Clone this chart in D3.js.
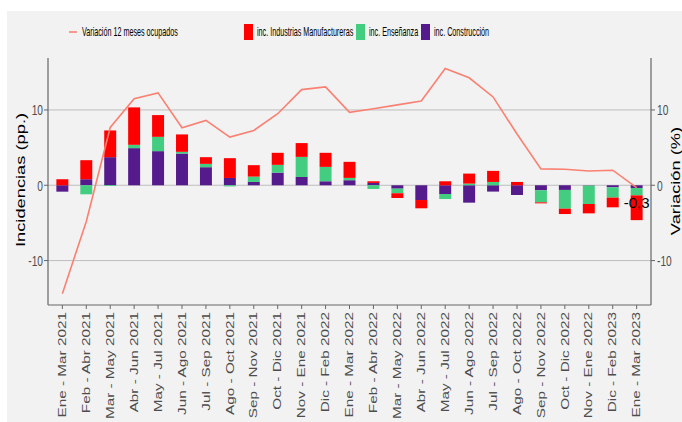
<!DOCTYPE html>
<html>
<head>
<meta charset="utf-8">
<script src="https://cdn.jsdelivr.net/npm/d3@7"></script>
<style>
  body { margin: 0; background: #fff; }
  text { font-family: "Liberation Sans", Arial, sans-serif; }
</style>
</head>
<body>
<script>
// datos
var periodos = ["Ene - Mar 2021", "Feb - Abr 2021", "Mar - May 2021", "Abr - Jun 2021", "May - Jul 2021",
  "Jun - Ago 2021", "Jul - Sep 2021", "Ago - Oct 2021", "Sep - Nov 2021", "Oct - Dic 2021",
  "Nov - Ene 2021", "Dic - Feb 2022", "Ene - Mar 2022", "Feb - Abr 2022", "Mar - May 2022",
  "Abr - Jun 2022", "May - Jul 2022", "Jun - Ago 2022", "Jul - Sep 2022", "Ago - Oct 2022",
  "Sep - Nov 2022", "Oct - Dic 2022", "Nov - Ene 2022", "Dic - Feb 2023", "Ene - Mar 2023"];

var construccion = [-0.85, 0.8, 3.73, 4.93, 4.53, 4.21, 2.4, 0.97, 0.44, 1.68, 1.1, 0.53, 0.67,
  0.31, -0.45, -1.96, -1.16, -2.31, -0.84, -1.29, -0.67, -0.62, -0.05, -0.27, -0.36];
var ensenanza = [0, -1.2, -0.1, 0.44, 1.9, 0.23, 0.44, -0.15, 0.71, 1.03, 2.67, 1.91, 0.31,
  -0.49, -0.61, 0, -0.67, 0.22, 0.44, 0, -1.6, -2.49, -2.44, -1.37, -0.98];
var industrias = [0.8, 2.53, 3.55, 4.97, 2.89, 2.31, 0.89, 2.63, 1.52, 1.6, 1.83, 1.87, 2.13,
  0.22, -0.63, -1.1, 0.53, 1.33, 1.47, 0.44, -0.13, -0.71, -1.24, -1.29, -3.29];
var variacion = [-14.4, -4.8, 7.68, 11.5, 12.27, 7.64, 8.61, 6.4, 7.28, 9.5, 12.7, 13.07, 9.68,
  10.17, 10.67, 11.2, 15.5, 14.27, 11.73, 6.8, 2.17, 2.13, 1.9, 2.0, -0.3];

var yTicks = [-10, 0, 10];
var ultimaEtiqueta = "-0,3";

var series = ["construccion", "ensenanza", "industrias"];
var colores = {construccion: "#551a8b", ensenanza: "#43cd80", industrias: "#ff0000"};
var colorLinea = "#fa8072";

var width = 682, height = 422;
var margin = {top: 58, right: 31, bottom: 117, left: 48};
var sx = 0.68; // el texto del original esta comprimido en horizontal

var svg = d3.select("body").append("svg")
  .attr("width", width)
  .attr("height", height);

// fondo gris
svg.append("rect")
  .attr("x", 7).attr("y", 11)
  .attr("width", width - 7).attr("height", height - 11)
  .attr("fill", "#f2f2f2");

var x = d3.scalePoint()
  .domain(periodos)
  .range([margin.left, width - margin.right])
  .padding(0.6);

var y = d3.scaleLinear()
  .domain([-15.9, 16.9])
  .range([height - margin.bottom, margin.top]);

var barW = x.step() * 0.5;

// grid
svg.append("g")
  .selectAll("line")
  .data(yTicks)
  .join("line")
  .attr("x1", margin.left).attr("x2", width - margin.right)
  .attr("y1", function(d) { return y(d); })
  .attr("y2", function(d) { return y(d); })
  .attr("stroke", "#bdbdbd")
  .attr("stroke-width", 1);

// barras apiladas
var filas = periodos.map(function(p, i) {
  return {periodo: p, construccion: construccion[i], ensenanza: ensenanza[i], industrias: industrias[i]};
});
var stacked = d3.stack().keys(series).offset(d3.stackOffsetDiverging)(filas);

svg.append("g")
  .selectAll("g")
  .data(stacked)
  .join("g")
  .attr("fill", function(d) { return colores[d.key]; })
  .selectAll("rect")
  .data(function(d) { return d; })
  .join("rect")
  .attr("x", function(d) { return x(d.data.periodo) - barW / 2; })
  .attr("width", barW)
  .attr("y", function(d) { return y(Math.max(d[0], d[1])); })
  .attr("height", function(d) { return Math.abs(y(d[0]) - y(d[1])); });

// linea variacion
var line = d3.line()
  .x(function(d, i) { return x(periodos[i]); })
  .y(function(d) { return y(d); });

svg.append("path")
  .datum(variacion)
  .attr("d", line)
  .attr("fill", "none")
  .attr("stroke", colorLinea)
  .attr("stroke-width", 1.6);

// etiqueta ultimo valor
svg.append("text")
  .attr("x", x(periodos[periodos.length - 1]))
  .attr("y", y(variacion[variacion.length - 1]) + 20)
  .attr("text-anchor", "middle")
  .attr("font-size", 15)
  .attr("fill", "#000")
  .text(ultimaEtiqueta);

// ejes
var axisColor = "#666";
var x0 = margin.left, x1 = width - margin.right, yb = height - margin.bottom;

svg.append("line").attr("x1", x0).attr("x2", x0).attr("y1", margin.top).attr("y2", yb)
  .attr("stroke", axisColor).attr("stroke-width", 1.2);
svg.append("line").attr("x1", x1).attr("x2", x1).attr("y1", margin.top).attr("y2", yb)
  .attr("stroke", axisColor).attr("stroke-width", 1.2);
svg.append("line").attr("x1", x0).attr("x2", x1).attr("y1", yb).attr("y2", yb)
  .attr("stroke", axisColor).attr("stroke-width", 1.2);

function squashText(g, tx, ty, rot, k) {
  return g.append("text")
    .attr("transform", "translate(" + tx + "," + ty + ") scale(" + (k || sx) + ",1)" + (rot ? " rotate(" + rot + ")" : ""));
}

// ticks y izquierda y derecha
yTicks.forEach(function(t) {
  svg.append("line").attr("x1", x0 - 4).attr("x2", x0).attr("y1", y(t)).attr("y2", y(t))
    .attr("stroke", axisColor);
  svg.append("line").attr("x1", x1).attr("x2", x1 + 4).attr("y1", y(t)).attr("y2", y(t))
    .attr("stroke", axisColor);
  squashText(svg, x0 - 5, y(t), 0)
    .attr("text-anchor", "end").attr("dy", "0.35em")
    .attr("font-size", 15).attr("fill", "#4d4d4d").text(t);
  squashText(svg, x1 + 6, y(t), 0)
    .attr("text-anchor", "start").attr("dy", "0.35em")
    .attr("font-size", 15).attr("fill", "#4d4d4d").text(t);
});

// ticks x
periodos.forEach(function(p) {
  svg.append("line").attr("x1", x(p)).attr("x2", x(p)).attr("y1", yb).attr("y2", yb + 4)
    .attr("stroke", axisColor);
  squashText(svg, x(p), yb + 7, -90)
    .attr("text-anchor", "end").attr("dy", "0.35em")
    .attr("font-size", 15.3).attr("fill", "#4d4d4d").text(p);
});

// titulos de eje
squashText(svg, 25, 180, -90)
  .attr("text-anchor", "middle").attr("font-size", 18.3).attr("fill", "#000")
  .text("Incidencias (pp.)");
squashText(svg, 680, 181, -90)
  .attr("text-anchor", "middle").attr("font-size", 18.3).attr("fill", "#000")
  .text("Variación (%)");

// leyenda
var legendY = 32;
svg.append("line").attr("x1", 69).attr("x2", 77).attr("y1", legendY).attr("y2", legendY)
  .attr("stroke", colorLinea).attr("stroke-width", 1.6);
squashText(svg, 82, legendY, 0, 0.6).attr("dy", "0.35em").attr("font-size", 12)
  .attr("fill", "#000").text("Variación 12 meses ocupados");

var leyenda = [
  {key: "industrias", label: "inc. Industrias Manufactureras", x: 244},
  {key: "ensenanza", label: "inc. Enseñanza", x: 356},
  {key: "construccion", label: "inc. Construcción", x: 421}
];
leyenda.forEach(function(l) {
  svg.append("rect").attr("x", l.x).attr("y", legendY - 8).attr("width", 9).attr("height", 16)
    .attr("fill", colores[l.key]);
  squashText(svg, l.x + 13, legendY, 0, 0.6).attr("dy", "0.35em").attr("font-size", 12)
    .attr("fill", "#000").text(l.label);
});
</script>
</body>
</html>
